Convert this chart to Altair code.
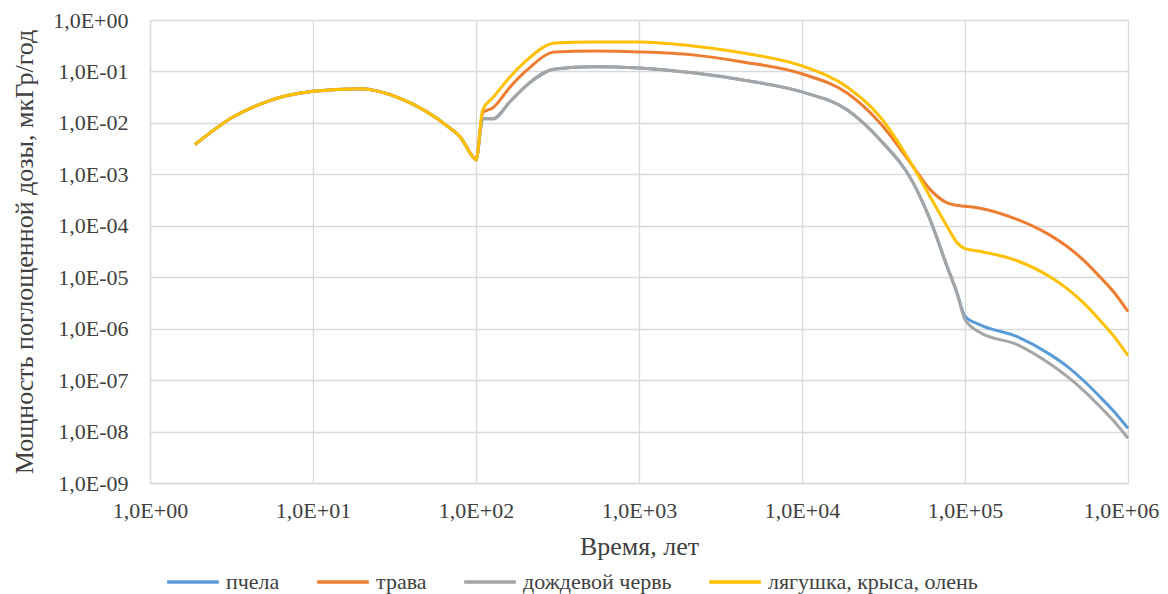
import altair as alt
import pandas as pd

years = [1.89, 3.23, 5.22, 10, 19.4, 34.2, 69.3, 79.8, 95.7, 100,
         110, 127, 162, 206, 305, 522, 1000, 2140, 4340, 1e4,
         1.89e4, 3.01e4, 4.8e4, 6.1e4, 7.76e4, 8.9e4, 1e5, 1.23e5,
         2.09e5, 3.3e5, 4.23e5, 5.37e5, 6.7e5, 8.2e5, 1e6]

common = [3.8e-3, 1.3e-2, 2.6e-2, 4.1e-2, 4.6e-2, 3.0e-2, 7.9e-3, 5.4e-3, 2.2e-3, 1.9e-3]

bee = common + [1.2e-2, 1.2e-2, 2.6e-2, 5.5e-2, 0.112, 0.123, 0.117, 0.094, 0.068, 0.040,
                0.018, 4.7e-3, 6.9e-4, 1.33e-4, 1.63e-5, 5.1e-6, 1.75e-6, 1.2e-6,
                7.0e-7, 3.2e-7, 1.85e-7, 9.6e-8, 4.8e-8, 2.45e-8, 1.15e-8]
grass = common + [1.58e-2, 1.97e-2, 5.0e-2, 0.107, 0.24, 0.25, 0.24, 0.21, 0.153, 0.090,
                  0.038, 0.010, 1.42e-3, 5.1e-4, 2.8e-4, 2.5e-4, 2.4e-4, 2.2e-4,
                  1.33e-4, 6.65e-5, 3.95e-5, 2.1e-5, 1.03e-5, 5.1e-6, 2.15e-6]
worm = common + [1.2e-2, 1.2e-2, 2.6e-2, 5.5e-2, 0.112, 0.123, 0.117, 0.094, 0.068, 0.040,
                 0.018, 4.7e-3, 6.9e-4, 1.33e-4, 1.63e-5, 5.1e-6, 1.5e-6, 8.5e-7,
                 4.9e-7, 2.1e-7, 1.18e-7, 6.2e-8, 3.1e-8, 1.58e-8, 7.4e-9]
frog = common + [1.8e-2, 3.1e-2, 7.9e-2, 0.168, 0.358, 0.375, 0.375, 0.313, 0.229, 0.128,
                 0.050, 0.0132, 1.42e-3, 3.7e-4, 9.8e-5, 4.8e-5, 3.6e-5, 3.2e-5,
                 2.09e-5, 1.03e-5, 6.0e-6, 3.1e-6, 1.48e-6, 7.1e-7, 3.0e-7]

names = ["пчела", "трава", "дождевой червь", "лягушка, крыса, олень"]
colors = ["#5B9BD5", "#ED7D31", "#A5A5A5", "#FFC000"]

x_ticks = [1, 10, 100, 1000, 1e4, 1e5, 1e6]
y_ticks = [1e-9, 1e-8, 1e-7, 1e-6, 1e-5, 1e-4, 1e-3, 1e-2, 1e-1, 1]

rows = []
for name, vals in zip(names, [bee, grass, worm, frog]):
    for t, d in zip(years, vals):
        rows.append({"t": t, "d": d, "s": name})
df = pd.DataFrame(rows)

e = "round(log(datum.value)/LN10)"
label_expr = ("'1,0E' + (" + e + " >= 0 ? '+' : '-') + (abs(" + e + ") < 10 ? '0' : '') + abs(" + e + ")")

FONT = "Liberation Serif"
TXT = "#404040"
GRID = "#D9D9D9"
LBL = 22
LEG = 22
TTL = 26

base = alt.Chart(df).mark_line(strokeWidth=3, interpolate="monotone").encode(
    x=alt.X("t:Q",
            scale=alt.Scale(type="log", domain=[1, 1e6], nice=False),
            axis=alt.Axis(values=x_ticks, labelExpr=label_expr, title="Время, лет",
                          ticks=False, labelPadding=17, titlePadding=12, grid=True,
                          labelFlush=False, labelOverlap=False,
                          labelOffset={"condition": {"test": "datum.value >= 999999", "value": -7},
                                       "value": 0})),
    y=alt.Y("d:Q",
            scale=alt.Scale(type="log", domain=[1e-9, 1], nice=False),
            axis=alt.Axis(values=y_ticks, labelExpr=label_expr,
                          title="Мощность поглощенной дозы, мкГр/год",
                          ticks=False, labelPadding=22, titlePadding=15, grid=True,
                          labelFlush=False, labelOverlap=False)),
    color=alt.Color("s:N", scale=alt.Scale(domain=names, range=colors),
                    legend=alt.Legend(orient="none", legendX=15, legendY=534,
                                      direction="horizontal", title=None,
                                      symbolType="stroke", symbolSize=2670,
                                      symbolStrokeWidth=3.5, labelOffset=5,
                                      columnPadding=30, labelLimit=0)),
)

layers = [base.transform_filter(alt.datum.s == n) for n in names]

chart = alt.layer(*layers).properties(
    width=978, height=463,
    autosize=alt.AutoSizeParams(type="none"),
    padding={"left": 142, "top": 12, "right": 32, "bottom": 111},
).configure_axis(
    gridColor=GRID, gridWidth=1.3, domainColor=GRID, domainWidth=1.3,
    labelFont=FONT, labelFontSize=LBL, labelColor=TXT,
    titleFont=FONT, titleFontSize=TTL, titleColor=TXT, titleFontWeight="normal",
).configure_legend(
    labelFont=FONT, labelFontSize=LEG, labelColor=TXT,
).configure_view(strokeWidth=0)

chart.save("out.html", embed_options={"renderer": "svg", "actions": False})
